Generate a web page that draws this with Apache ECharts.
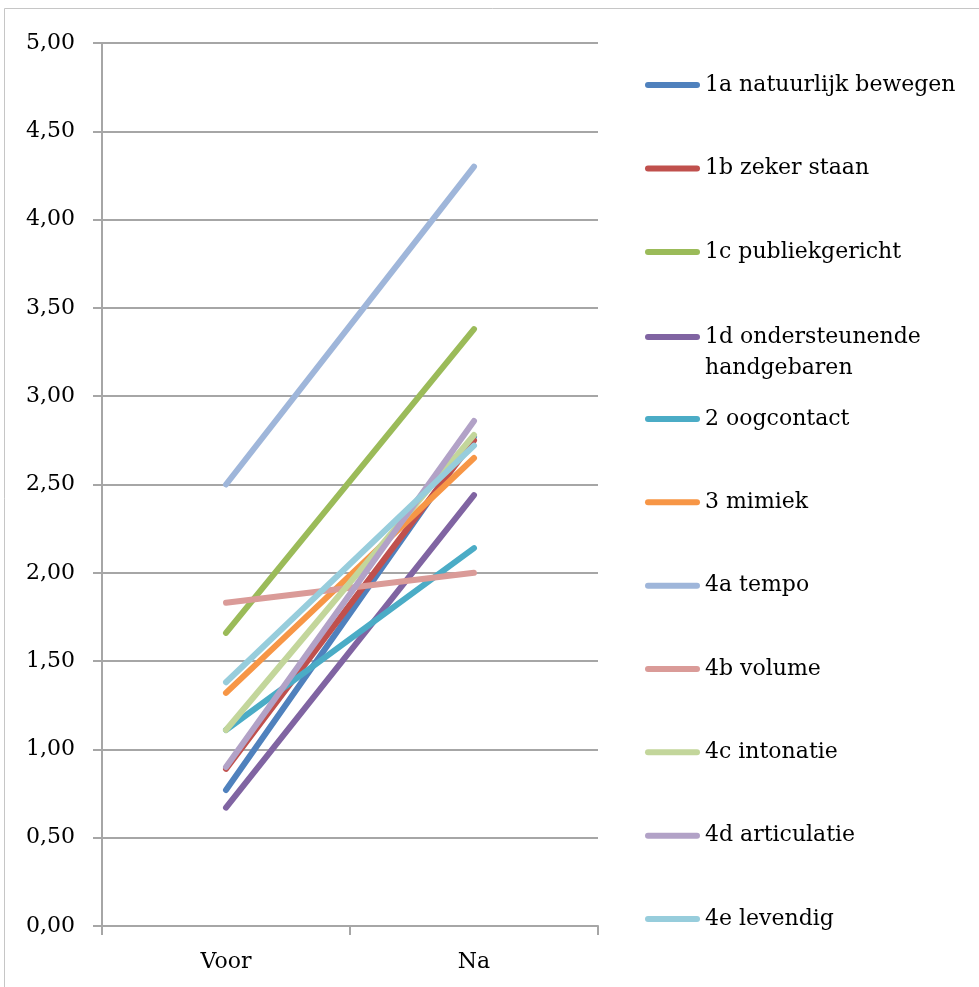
<!DOCTYPE html>
<html>
<head>
<meta charset="utf-8">
<script src="https://cdn.jsdelivr.net/npm/echarts@6/dist/echarts.min.js"></script>
<style>
html,body{margin:0;padding:0;background:#fff;}
#chart{width:979px;height:987px;}
</style>
</head>
<body>
<div id="chart"></div>
<script>
var categories = ['Voor', 'Na'];
var seriesNames = [
  '1a natuurlijk bewegen',
  '1b zeker staan',
  '1c publiekgericht',
  '1d ondersteunende handgebaren',
  '2 oogcontact',
  '3 mimiek',
  '4a tempo',
  '4b volume',
  '4c intonatie',
  '4d articulatie',
  '4e levendig'
];
var voorValues = [0.77, 0.89, 1.66, 0.67, 1.11, 1.32, 2.50, 1.83, 1.11, 0.90, 1.38];
var naValues   = [2.77, 2.75, 3.38, 2.44, 2.14, 2.65, 4.30, 2.00, 2.78, 2.86, 2.72];
var colors = ['#4F81BD', '#C0504D', '#9BBB59', '#8064A2', '#4BACC6', '#F79646',
              '#9FB6DA', '#DA9B98', '#C3D69B', '#B2A2C7', '#97CDDC'];
var yTicks = { min: 0, max: 5, interval: 0.5 };

var FONT = 'DejaVu Serif';
var chart = echarts.init(document.getElementById('chart'));

var series = seriesNames.map(function (name, i) {
  return {
    name: name,
    type: 'line',
    data: [voorValues[i], naValues[i]],
    symbol: 'none',
    color: colors[i],
    lineStyle: { width: 6, cap: 'round', join: 'round', color: colors[i] },
    emphasis: { disabled: true },
    animation: false
  };
});

var iconPath = 'path://M3,0 L52,0 A3,3 0 0 1 52,6 L3,6 A3,3 0 0 1 3,0 Z';
function legendBase(extra) {
  var base = {
    orient: 'vertical',
    left: 645,
    padding: 0,
    icon: iconPath,
    itemWidth: 55,
    itemHeight: 6,
    selectedMode: false,
    textStyle: { fontFamily: FONT, fontSize: 22, color: '#000', lineHeight: 26 }
  };
  for (var k in extra) base[k] = extra[k];
  return base;
}

var option = {
  animation: false,
  backgroundColor: '#fff',
  grid: { left: 102, right: 381, top: 43, bottom: 61, containLabel: false },
  xAxis: {
    type: 'category',
    data: categories,
    boundaryGap: true,
    axisLine: { show: true, lineStyle: { color: '#a6a6a6', width: 2 } },
    axisTick: { show: true, length: 9, interval: 0, lineStyle: { color: '#a6a6a6', width: 2 } },
    axisLabel: { fontFamily: FONT, fontSize: 22, color: '#000', margin: 25 },
    splitLine: { show: false }
  },
  yAxis: {
    type: 'value',
    min: yTicks.min,
    max: yTicks.max,
    interval: yTicks.interval,
    axisLine: { show: true, lineStyle: { color: '#a6a6a6', width: 2 } },
    axisTick: { show: true, length: 9, lineStyle: { color: '#a6a6a6', width: 2 } },
    axisLabel: {
      fontFamily: FONT, fontSize: 22, color: '#000', margin: 27,
      formatter: function (v) { return v.toFixed(2).replace('.', ','); }
    },
    splitLine: { show: true, lineStyle: { color: '#a6a6a6', width: 2 } }
  },
  legend: [
    legendBase({ top: 72, itemGap: 57.5, data: seriesNames.slice(0, 3) }),
    legendBase({
      top: 290.5, itemGap: 0,
      formatter: function () { return '\n1d ondersteunende\nhandgebaren'; },
      textStyle: { fontFamily: FONT, fontSize: 22, color: '#000', lineHeight: 31 },
      data: seriesNames.slice(3, 4)
    }),
    legendBase({ top: 406, itemGap: 57.33, data: seriesNames.slice(4) })
  ],
  graphic: [{
    type: 'rect',
    silent: true,
    shape: { x: 4.5, y: 8.5, width: 1000, height: 1000 },
    style: { fill: 'none', stroke: '#c6c6c6', lineWidth: 1 }
  }],
  series: series
};
chart.setOption(option);
</script>
</body>
</html>
